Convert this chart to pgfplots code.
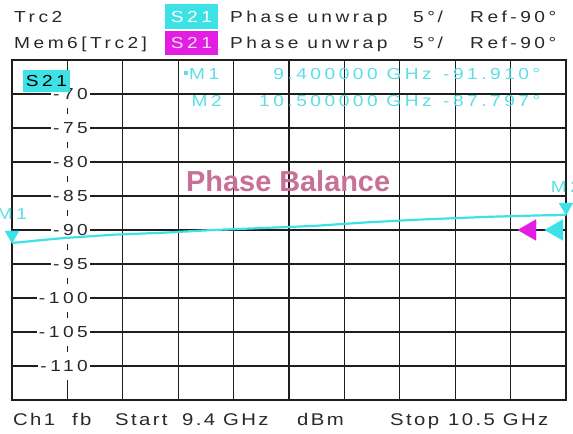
\documentclass[border=0pt]{standalone}
\usepackage{fontspec}
\setmainfont{Liberation Sans}
\newfontfamily\vna[FakeStretch=1.2,LetterSpace=22]{Liberation Sans}
\newfontfamily\vnab[FakeStretch=1.2,LetterSpace=14]{Liberation Sans}
\usepackage{pgfplots}
\pgfplotsset{compat=1.18}

\definecolor{trc}{RGB}{60,226,230}
\definecolor{rdout}{RGB}{92,222,228}
\definecolor{mag}{RGB}{226,30,226}
\definecolor{pb}{RGB}{200,112,150}
\definecolor{gridc}{RGB}{30,30,30}
\definecolor{txt}{RGB}{40,40,40}

\newcommand{\hdr}{\vna\fontsize{16}{18}\selectfont}
\newcommand{\btm}{\vnab\fontsize{17}{19}\selectfont}

\begin{document}
\begin{tikzpicture}
\begin{axis}[
  set layers,
  scale only axis, width=554bp, height=340bp,
  at={(0,0)}, anchor=south west,
  xmin=9.4, xmax=10.5, ymin=-115, ymax=-65,
  xtick={9.4,9.51,9.62,9.73,9.84,9.95,10.06,10.17,10.28,10.39,10.5},
  xticklabels={},
  ytick={-110,-105,...,-70},
  yticklabels={-110,-105,-100,-95,-90,-85,-80,-75,-70},
  major tick length=0pt,
  grid=major,
  grid style={draw=gridc, line width=1.3bp},
  axis line style={draw=gridc, line width=1.5bp},
  yticklabel style={anchor=east, xshift=78bp, fill=white, inner xsep=2bp,
    inner ysep=8.5bp, font=\hdr, text=txt},
  clip=false,
]
% Trc2 phase trace
\addplot[trc, line width=2.2bp] coordinates {
  (9.40,-91.91) (9.45,-91.55) (9.50,-91.20) (9.55,-90.95) (9.60,-90.70)
  (9.65,-90.55) (9.70,-90.40) (9.75,-90.20) (9.80,-90.00) (9.85,-89.85)
  (9.90,-89.70) (9.95,-89.55) (10.00,-89.40) (10.05,-89.15) (10.10,-88.90)
  (10.15,-88.70) (10.20,-88.50) (10.25,-88.35) (10.30,-88.20) (10.35,-88.05)
  (10.40,-87.95) (10.45,-87.85) (10.50,-87.797)
};
% markers M1, M2
\addplot[only marks, mark=triangle*, mark size=8bp, color=trc,
  mark options={yshift=8bp, rotate=180}] coordinates {(9.4,-91.91) (10.5,-87.797)};
% reference level indicators
\addplot[only marks, mark=triangle*, mark size=12bp, color=mag,
  mark options={rotate=90}] coordinates {(10.4285,-90)};
\addplot[only marks, mark=triangle*, mark size=12bp, color=trc,
  mark options={rotate=90}] coordinates {(10.482,-90)};
\node[anchor=base, font=\hdr, text=rdout, yshift=23bp] at (axis cs:9.4,-91.91) {M1};
\node[anchor=base, font=\hdr, text=rdout, yshift=23bp] at (axis cs:10.5,-87.797) {M2};
\end{axis}

\pgfresetboundingbox
\begin{scope}[x=1bp,y=1bp]
\path[use as bounding box] (-12,-34) rectangle (561,400);
% header
\node[anchor=base west, inner xsep=0pt, font=\hdr, text=txt] at (2,377) {Trc2};
\node[anchor=base west, inner xsep=0pt, font=\hdr, text=txt] at (2,351) {Mem6[Trc2]};
\fill[trc] (153,371) rectangle (206,396);
\node[anchor=base, font=\hdr, text=white] at (179.5,377) {S21};
\fill[mag] (153,345) rectangle (206,369);
\node[anchor=base, font=\hdr, text=white!85!mag] at (179.5,351) {S21};
\foreach \yy in {377,351} {
  \node[anchor=base west, inner xsep=0pt, font=\hdr, text=txt] at (218,\yy) {Phase unwrap};
  \node[anchor=base west, inner xsep=0pt, font=\hdr, text=txt] at (401,\yy) {5°\,/};
  \node[anchor=base west, inner xsep=0pt, font=\hdr, text=txt] at (458,\yy) {Ref-90°};
}

% S21 tag in the diagram
\fill[trc] (11,308) rectangle (58,330);
\node[anchor=base, font=\hdr, text=black] at (34.5,313) {S21};

% marker readout
\fill[rdout] (172,325) rectangle (176,329);
\node[anchor=base west, inner xsep=0pt, font=\hdr, text=rdout] at (177,320) {M1};
\node[anchor=base east, inner xsep=0pt, font=\hdr, text=rdout] at (420,320) {9.400000 GHz};
\node[anchor=base west, inner xsep=0pt, font=\hdr, text=rdout] at (431,320) {-91.910°};
\node[anchor=base east, inner xsep=0pt, font=\hdr, text=rdout] at (210,293) {M2};
\node[anchor=base east, inner xsep=0pt, font=\hdr, text=rdout] at (420,293) {10.500000 GHz};
\node[anchor=base west, inner xsep=0pt, font=\hdr, text=rdout] at (431,293) {-87.797°};

% title
\node[anchor=base west, inner xsep=0pt, font=\bfseries\fontsize{29}{31}\selectfont, text=pb]
  at (174,208) {Phase Balance};

% footer
\node[anchor=base west, inner xsep=0pt, font=\btm, text=txt] at (1,-26) {Ch1};
\node[anchor=base west, inner xsep=0pt, font=\btm, text=txt] at (60,-26) {fb};
\node[anchor=base west, inner xsep=0pt, font=\btm, text=txt] at (103,-26) {Start};
\node[anchor=base west, inner xsep=0pt, font=\btm, text=txt] at (170,-26) {9.4 GHz};
\node[anchor=base west, inner xsep=0pt, font=\btm, text=txt] at (285,-26) {dBm};
\node[anchor=base west, inner xsep=0pt, font=\btm, text=txt] at (378,-26) {Stop};
\node[anchor=base west, inner xsep=0pt, font=\btm, text=txt] at (436,-26) {10.5 GHz};
\end{scope}
\end{tikzpicture}
\end{document}
